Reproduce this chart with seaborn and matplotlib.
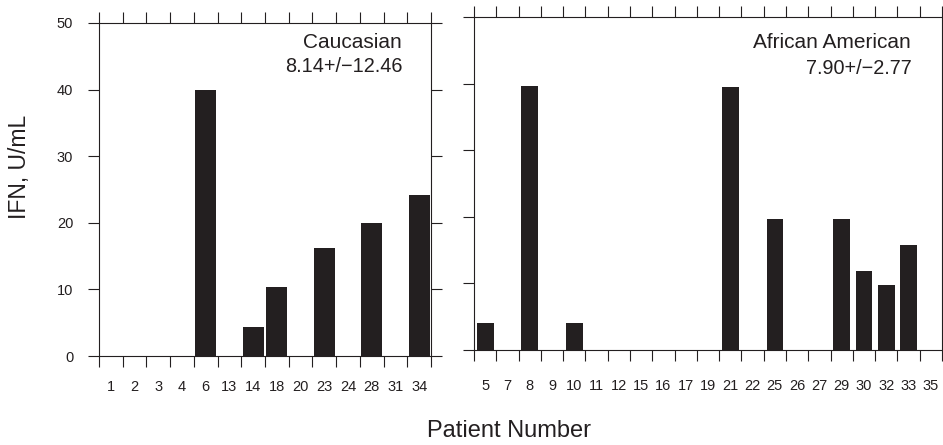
import numpy as np
import pandas as pd
import matplotlib
matplotlib.use("Agg")
import matplotlib.pyplot as plt
import seaborn as sns

# ---- data ----
left_patients = ['1', '2', '3', '4', '6', '13', '14', '18', '20', '23', '24', '28', '31', '34']
left_ifn = [0, 0, 0, 0, 40.0, 0, 4.3, 10.3, 0, 16.2, 0, 20.0, 0, 24.1]
right_patients = ['5', '7', '8', '9', '10', '11', '12', '15', '16', '17', '19', '21',
                  '22', '25', '26', '27', '29', '30', '32', '33', '35']
right_ifn = [4.1, 0, 39.6, 0, 4.1, 0, 0, 0, 0, 0, 0, 39.5,
             0, 19.7, 0, 0, 19.7, 11.9, 9.8, 15.8, 0]
left_title = "Caucasian"
left_stat = "8.14+/\u221212.46"
right_title = "African American"
right_stat = "7.90+/\u22122.77"
y_ticks = [0, 10, 20, 30, 40, 50]

sns.set_style("ticks")
plt.rcParams['font.family'] = ['Liberation Sans', 'DejaVu Sans']
INK = '#231f20'

W, H = 943, 445
fig = plt.figure(figsize=(W / 100, H / 100), dpi=100)

def px_axes(x0, y0, x1, y1):
    return fig.add_axes([x0 / W, 1 - y1 / H, (x1 - x0) / W, (y1 - y0) / H])

axL = px_axes(99, 23, 431, 356)
axR = px_axes(474, 17, 942, 350)

def draw(ax, cats, vals, width, label_pad, show_ylabels):
    df = pd.DataFrame({'patient': cats, 'ifn': vals})
    sns.barplot(data=df, x='patient', y='ifn', order=cats, ax=ax, color=INK,
                saturation=1, width=width, linewidth=0, errorbar=None)
    n = len(cats)
    ax.set_xlim(-0.5, n - 0.5)
    ax.set_ylim(0, 50)
    ax.set_xticks(np.arange(n + 1) - 0.5, labels=[''] * (n + 1))
    ax.set_xticks(np.arange(n), labels=cats, minor=True)
    ax.set_yticks(y_ticks, labels=[str(v) for v in y_ticks] if show_ylabels else [''] * len(y_ticks))
    ax.tick_params(axis='both', which='major', direction='out', length=8, width=0.8,
                   color=INK, top=True, right=True, labelsize=10.5, labelcolor=INK, pad=10.5)
    ax.tick_params(axis='x', which='minor', length=0, pad=label_pad, labelsize=10.5,
                   labelcolor=INK, bottom=True, top=False)
    ax.set_xlabel('')
    ax.set_ylabel('')
    for s in ax.spines.values():
        s.set_visible(True)
        s.set_linewidth(0.8)
        s.set_color(INK)

draw(axL, left_patients, left_ifn, 0.89, 17, True)
draw(axR, right_patients, right_ifn, 0.75, 21, False)

axL.text(0.913, 0.94, left_title, transform=axL.transAxes, ha='right', va='center',
         fontsize=15, color=INK)
axL.text(0.916, 0.868, left_stat, transform=axL.transAxes, ha='right', va='center',
         fontsize=14.3, color=INK)
axR.text(0.934, 0.922, right_title, transform=axR.transAxes, ha='right', va='center',
         fontsize=15, color=INK)
axR.text(0.936, 0.845, right_stat, transform=axR.transAxes, ha='right', va='center',
         fontsize=14.3, color=INK)

fig.text(20 / W, 1 - 167 / H, "IFN, U/mL", rotation=90, ha='center', va='center',
         fontsize=16.5, color=INK)
fig.text(509 / W, 1 - 431 / H, "Patient Number", ha='center', va='center',
         fontsize=17, color=INK)

fig.savefig("out.png", dpi=100)
